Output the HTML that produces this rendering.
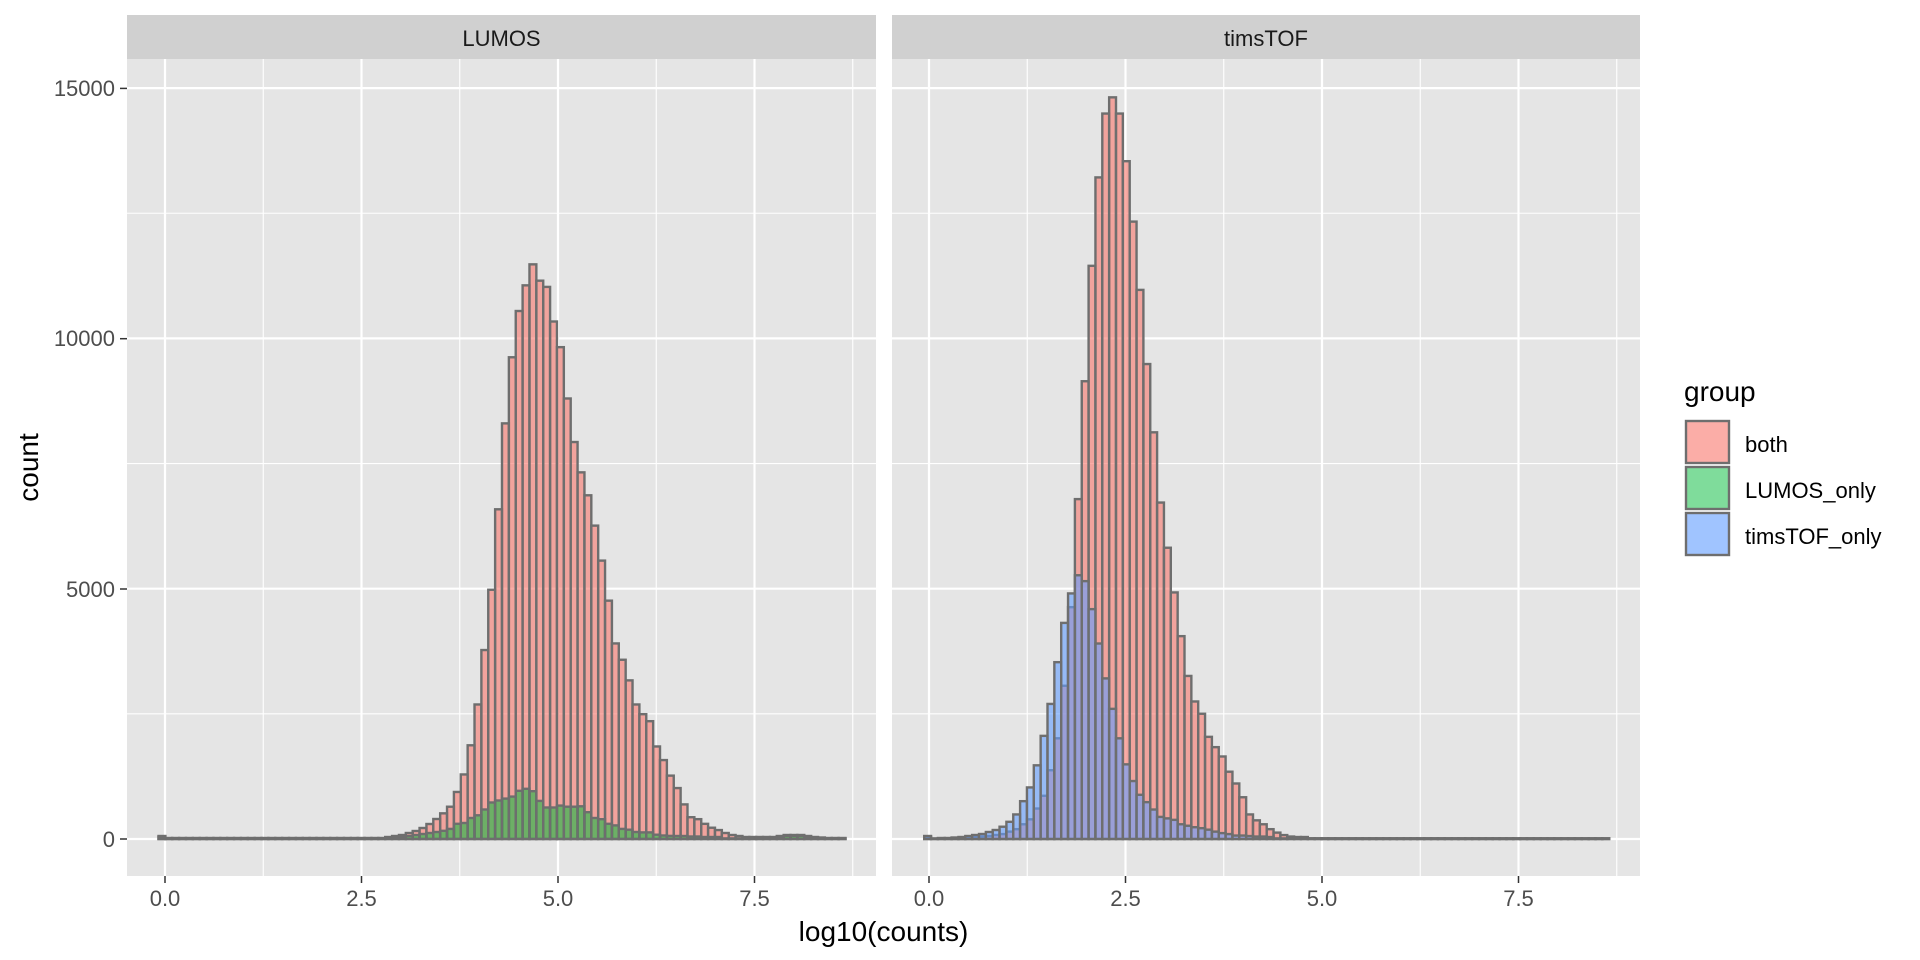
<!DOCTYPE html>
<html><head><meta charset="utf-8"><style>
html,body{margin:0;padding:0;background:#fff;}
svg{display:block;font-family:"Liberation Sans",Arial,sans-serif;}
</style></head><body>
<svg id="s" width="1920" height="960" xmlns="http://www.w3.org/2000/svg">
<rect x="0" y="0" width="1920" height="960" fill="#fff"/>
<rect x="127" y="15" width="749" height="44" fill="#D0D0D0"/>
<rect x="892" y="15" width="748" height="44" fill="#D0D0D0"/>
<text x="501.5" y="46" font-size="22" text-anchor="middle" fill="#1A1A1A">LUMOS</text>
<text x="1266" y="46" font-size="22" text-anchor="middle" fill="#1A1A1A">timsTOF</text>
<rect x="127" y="59" width="749" height="817" fill="#E5E5E5"/>
<rect x="892" y="59" width="748" height="817" fill="#E5E5E5"/>
<g id="grid"></g>
<g id="bars"></g>
<g fill="#4D4D4D" font-size="22" text-anchor="end">
<text x="115" y="96">15000</text>
<text x="115" y="346">10000</text>
<text x="115" y="597">5000</text>
<text x="115" y="847">0</text>
</g>
<g stroke="#333" stroke-width="1.5">
<line x1="120" x2="127" y1="88.4" y2="88.4"/>
<line x1="120" x2="127" y1="338.7" y2="338.7"/>
<line x1="120" x2="127" y1="589" y2="589"/>
<line x1="120" x2="127" y1="839" y2="839"/>
</g>
<g id="xt" fill="#4D4D4D" font-size="22" text-anchor="middle"></g>
<text x="883.5" y="941" font-size="28" text-anchor="middle" fill="#000">log10(counts)</text>
<text transform="translate(38,467.5) rotate(-90)" font-size="28" text-anchor="middle" fill="#000">count</text>
<text x="1684" y="401" font-size="28" fill="#000">group</text>
<rect x="1686" y="421" width="43" height="42" fill="#F8766D" fill-opacity="0.6" stroke="#6E6E6E" stroke-width="2.4"/>
<rect x="1686" y="467" width="43" height="42" fill="#00BA38" fill-opacity="0.5" stroke="#6E6E6E" stroke-width="2.4"/>
<rect x="1686" y="513" width="43" height="42" fill="#619CFF" fill-opacity="0.6" stroke="#6E6E6E" stroke-width="2.4"/>
<g font-size="22" fill="#000">
<text x="1745" y="452">both</text>
<text x="1745" y="498">LUMOS_only</text>
<text x="1745" y="544">timsTOF_only</text>
</g>
</svg>
<script>
(function(){
var NS="http://www.w3.org/2000/svg";
function el(p,t,a){var e=document.createElementNS(NS,t);for(var k in a)e.setAttribute(k,a[k]);p.appendChild(e);return e;}
var grid=document.getElementById('grid'),bars=document.getElementById('bars'),xt=document.getElementById('xt');
var panels=[{x0:127,x1:876,z:165},{x0:892,x1:1640,z:929}];
var u=78.6, y0=839, ppc=250.3/5000;
panels.forEach(function(p){
  [2500,7500,12500].forEach(function(v){var y=y0-v*ppc;el(grid,'line',{x1:p.x0,x2:p.x1,y1:y,y2:y,stroke:'#fff','stroke-width':1.1});});
  [1.25,3.75,6.25,8.75].forEach(function(v){var x=p.z+v*u;el(grid,'line',{x1:x,x2:x,y1:59,y2:876,stroke:'#fff','stroke-width':1.1});});
  [0,5000,10000,15000].forEach(function(v){var y=y0-v*ppc;el(grid,'line',{x1:p.x0,x2:p.x1,y1:y,y2:y,stroke:'#fff','stroke-width':2.2});});
  [0,2.5,5,7.5].forEach(function(v){var x=p.z+v*u;el(grid,'line',{x1:x,x2:x,y1:59,y2:876,stroke:'#fff','stroke-width':2.2});
    el(bars,'line',{x1:x,x2:x,y1:876,y2:883,stroke:'#333','stroke-width':1.5});
    var t=el(xt,'text',{x:x,y:906});t.textContent=v.toFixed(1);});
});
var Lpink=[],Lgreen=[];
for(var i=0;i<100;i++){Lpink[i]=1;Lgreen[i]=0.6;}
Lpink[0]=3;Lgreen[0]=2;
[[33,2],[34,3],[35,4],[36,6],[37,8],[38,11],[39,15],[40,20]].forEach(function(a){Lpink[a[0]]=a[1];});
[[33,1],[34,1.5],[35,2],[36,3],[37,4],[38,5],[39,6],[40,7]].forEach(function(a){Lgreen[a[0]]=a[1];});
var pz=[1475,1458,1420,1375,1300,1195,1055,900,693,472,302,183,117,63,105,121,210,276,408,520,598,657,735,825,928,1038,1080,1133,1195,1220,1238,1303,1338,1378,1410,1452,1485,1490,1502,1512,1518];
pz.forEach(function(z,k){Lpink[41+k]=(1541-z)/2.572;});
var gh=[8.2,10.1,15.2,16,21,23.7,29.5,36.5,38.5,40.4,42.4,48.2,50.2,47.8,38.1,31.5,31.5,33.4,32.3,32.3,32.7,26.8,21,19.8,15.2,13.6,10.1,9.3,7,6.6,6.6,4.3,3.5,3.1,3,3,2.5,2.5,2,2,2];
gh.forEach(function(h,k){Lgreen[41+k]=h;});
[[82,6],[83,4],[84,3],[85,2],[86,2],[87,2],[88,2],[89,2],[90,3],[91,4],[92,4],[93,4],[94,3],[95,2],[96,1.5]].forEach(function(a){Lpink[a[0]]=a[1];});
[[88,1],[89,1.5],[90,2],[91,3],[92,3],[93,3],[94,2],[95,1.5]].forEach(function(a){Lgreen[a[0]]=a[1];});
var Rpink=[],Rblue=[];
for(var i=0;i<100;i++){Rpink[i]=0.7;Rblue[i]=0.6;}
Rpink[0]=2;Rblue[0]=3;
var rpz={11:1535,12:1530,13:1525,14:1515,15:1505,16:1483,17:1457,18:1405,19:1340,20:1233,21:1073,22:853,23:613,24:378,25:198,26:68,27:35,28:68,29:165,30:288,31:427,32:578,33:717,34:860,35:952,36:1043,37:1132,38:1213,39:1265,40:1290,41:1337,42:1358,43:1377,44:1408,45:1432,46:1460,47:1495,48:1507,49:1515,50:1525,51:1532,52:1537,53:1540,54:1541,55:1541};
for(var k in rpz)Rpink[k]=(1545-rpz[k])/2.036;
[[1,0.5],[2,0.7],[3,0.8],[4,1],[5,1.2],[6,1.5],[7,2],[8,2.5],[9,3],[10,4]].forEach(function(a){Rpink[a[0]]=a[1];});
[[1,0.5],[2,1],[3,1],[4,1.5],[5,2],[6,3],[7,4],[8,5],[9,7],[10,9]].forEach(function(a){Rblue[a[0]]=a[1];});
var rbz={11:1520,12:1510,13:1495,14:1468,15:1440,16:1395,17:1335,18:1270,19:1185,20:1105,21:1045,22:1008,23:1020,24:1077,25:1147,26:1218,27:1280,28:1340,29:1393,30:1427,31:1455,32:1470,33:1485,34:1500,35:1503,36:1506,37:1515,38:1518,39:1521,40:1523,41:1526,42:1530,43:1533,44:1535,45:1538,46:1538,47:1539,48:1540,49:1540,50:1541};
for(var k in rbz)Rblue[k]=(1545-rbz[k])/2.036;
function draw(x0,w,arr,col,op){
  for(var i=0;i<arr.length;i++){var h=arr[i];if(!(h>0))continue;
    el(bars,'rect',{x:x0+i*w,y:y0-h,width:w,height:h,fill:col,'fill-opacity':op,stroke:'#6E6E6E','stroke-width':2.4});}
}
draw(158.5,6.87,Lpink,'#F8766D',0.6);
draw(158.5,6.87,Lgreen,'#00BA38',0.55);
draw(924.2,6.85,Rpink,'#F8766D',0.6);
draw(924.2,6.85,Rblue,'#619CFF',0.6);
})();
</script>
</body></html>
